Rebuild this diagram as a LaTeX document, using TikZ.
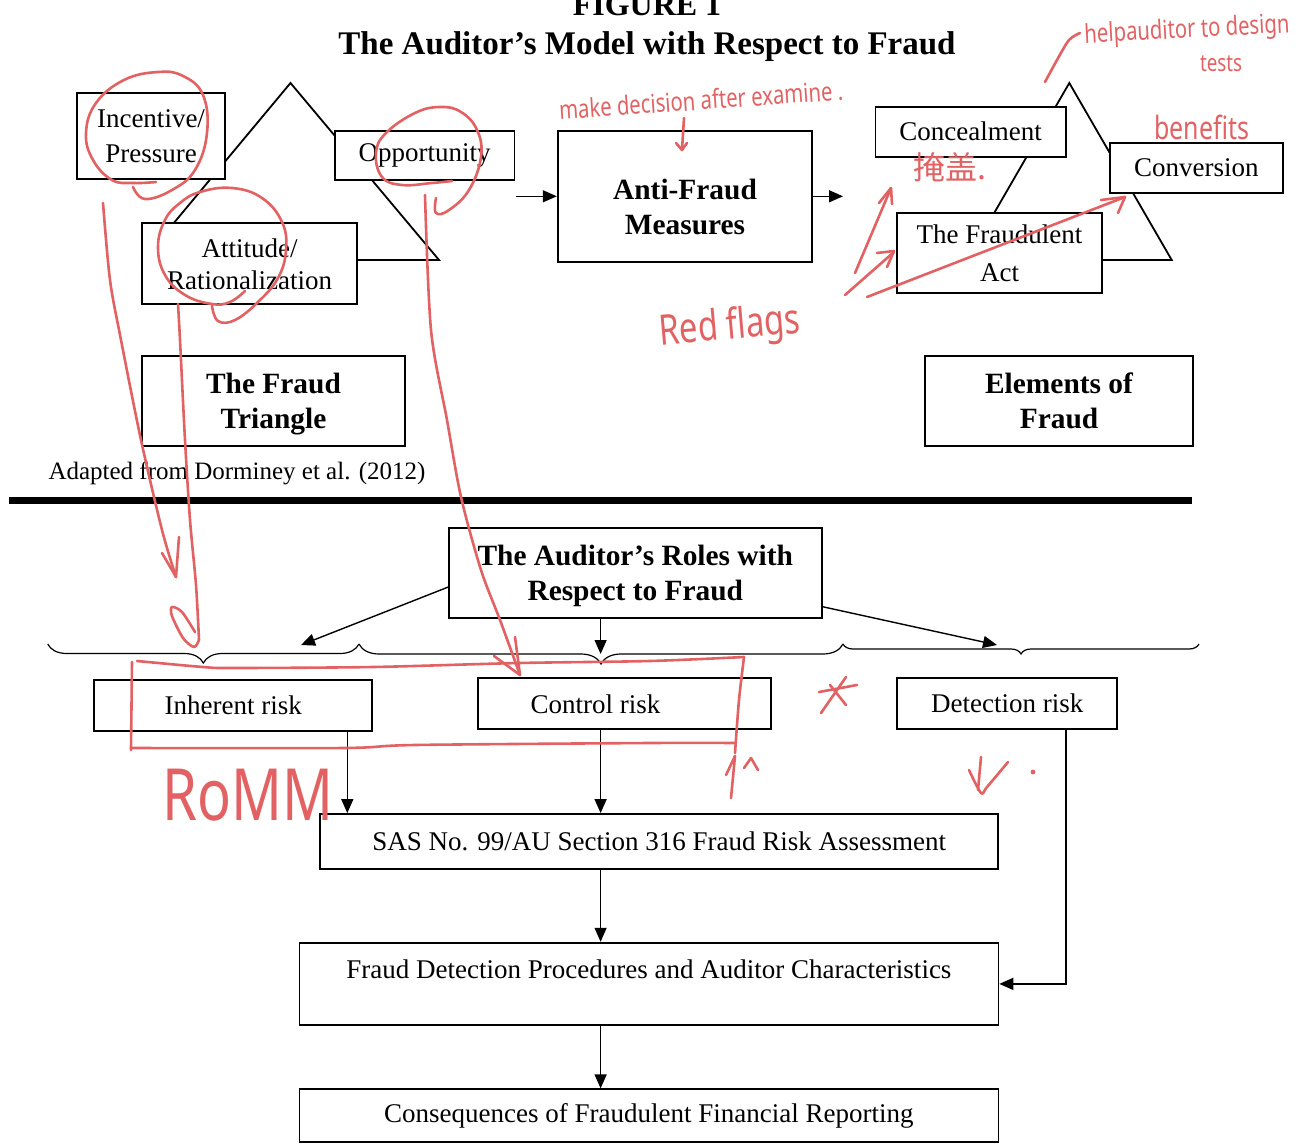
\documentclass[tikz,border=0pt]{standalone}
\usepackage{fontspec}
\setmainfont{Liberation Serif}
\newfontfamily\penfont{Noto Sans}[FakeStretch=0.78]
\newfontfamily\cjkfont{Noto Sans CJK SC}
\usetikzlibrary{arrows.meta,decorations.pathreplacing}
\definecolor{redpen}{RGB}{226,98,100}

\begin{document}
\begin{tikzpicture}[
  x=0.5pt,
  y=-0.5pt,
  box/.style={draw, line width=0.9pt, fill=white, inner sep=0pt, align=center, font=\fontsize{13.5}{17.5}\selectfont},
  head/.style={box, font=\bfseries\fontsize{14.7}{17.5}\selectfont},
  arr/.style={-{Triangle[length=7pt,width=6pt]}, line width=0.7pt},
  curly/.style={decorate, decoration={brace, mirror, amplitude=#1}, line width=0.6pt},
  pen/.style={draw=redpen, line width=1.3pt, line cap=round, line join=round},
  pentext/.style={text=redpen, inner sep=0pt}
]

\path[fill=white] (0,0) rectangle (1305,1144);
\useasboundingbox (0,0) rectangle (1305,1144);

\node[font=\bfseries\fontsize{16}{19}\selectfont, anchor=base] (figno) at (647,16) {FIGURE 1};
\node[font=\bfseries\fontsize{16.5}{19}\selectfont, anchor=base] (title) at (647,55) {The Auditor's Model with Respect to Fraud};

\draw[line width=0.9pt] (290.5,83) -- (143,260) -- (439,260) -- cycle;
\draw[line width=0.9pt] (1069.3,83) -- (967,260) -- (1171.7,260) -- cycle;

\node[box, minimum width=74.3pt, minimum height=43pt] (incentive) at (151,136) {Incentive/\\Pressure};
\node[box, minimum width=89.8pt, minimum height=24.8pt] (opportunity) at (424.7,155.5) {Opportunity};
\node[box, minimum width=107.3pt, minimum height=40.5pt] (attitude) at (249.5,263.8) {Attitude/\\[-1.5pt]Rationalization};
\node[head, minimum width=127.3pt, minimum height=65.4pt] (antifraud) at (685,196.3) {\rule{0pt}{21pt}Anti-Fraud\\Measures};
\node[box, minimum width=95.2pt, minimum height=25pt] (concealment) at (970.7,131.7) {Concealment};
\node[box, minimum width=86.6pt, minimum height=24.7pt] (conversion) at (1196.4,168) {Conversion};
\node[box, minimum width=102.5pt, minimum height=40.3pt] (fraudact) at (999.5,253) {The Fraudulent\\[1.5pt]Act};
\node[head, minimum width=131.2pt, minimum height=45pt] (fraudtriangle) at (273.5,401) {\rule{0pt}{13pt}The Fraud\\Triangle};
\node[head, minimum width=133.7pt, minimum height=44.9pt] (elements) at (1059,400.8) {Elements of\\Fraud};
\node[font=\fontsize{12.5}{15}\selectfont] (source) at (237,473) {Adapted from Dorminey et al. (2012)};

\coordinate (afin) at (516,196.3);
\coordinate (afout) at (843,196.3);
\draw[arr] (afin) -- (antifraud);
\draw[arr] (antifraud) -- (afout);

\draw[line width=3.5pt] (9,500.5) -- (1192,500.5);

\node[head, minimum width=186.3pt, minimum height=45pt] (roles) at (635.3,572.7) {\rule{0pt}{13pt}The Auditor's Roles with\\Respect to Fraud};

\draw[curly=9.5pt] (47.7,644) -- (359,644);
\draw[curly=10pt] (359,644) -- (843,644);
\draw[curly=5pt] (843,644) -- (1199,644);
\coordinate (b1) at (301,645);
\coordinate (b2) at (600.6,654);
\coordinate (b3) at (997,645);

\draw[arr] ([yshift=-7.2pt]roles.west) -- (b1);
\draw[arr] (roles.south -| b2) -- (b2);
\draw[arr] ([yshift=-17pt]roles.east) -- (b3);

\node[box, minimum width=139pt, minimum height=25.4pt] (inherent) at (233.2,705.4) {Inherent risk};
\node[box, minimum width=146.6pt, minimum height=25.5pt] (control) at (624.6,703.8) {Control risk\hspace*{29pt}\mbox{}};
\node[box, minimum width=109.9pt, minimum height=25.5pt] (detection) at (1007.2,703.2) {Detection risk};
\node[box, minimum width=339pt, minimum height=27.5pt] (sas) at (659.3,841.5) {SAS No. 99/AU Section 316 Fraud Risk Assessment};
\node[box, minimum width=349.5pt, minimum height=41.2pt] (procedures) at (648.9,983.9) {Fraud Detection Procedures and Auditor Characteristics\\[-8pt]\strut};
\node[box, minimum width=349.5pt, minimum height=26.2pt] (consequences) at (648.9,1115.5) {Consequences of Fraudulent Financial Reporting};

\draw[arr] ([xshift=-12.9pt]inherent.south east) -- ([xshift=-12.9pt]inherent.south east |- sas.north);
\draw[arr] (control.south -| b2) -- (sas.north -| b2);
\draw[arr] (sas.south -| b2) -- (procedures.north -| b2);
\draw[arr] (procedures.south -| b2) -- (consequences.north -| b2);
\draw[arr] ([xshift=29.4pt]detection.south) |- (procedures.east);

\draw[pen] plot[smooth, tension=0.7] coordinates {(133,187) (145,199) (172,190) (195,170) (207,133) (203,95) (183,76) (158,72) (124,80) (96,103) (86,133) (93,160) (112,180) (133,183) (156,182)};
\draw[pen] plot[smooth, tension=0.7] coordinates {(436,198) (436,213) (449,210) (469,190) (481,157) (477,130) (461,112) (440,107) (415,113) (386,133) (376,153) (382,177) (402,185) (432,183) (452,181)};
\draw[pen] plot[smooth, tension=0.7] coordinates {(245,291) (230,302) (212,304) (185,295) (165,275) (158,247) (165,220) (180,203) (200,192) (232,188) (262,198) (282,222) (286,250) (278,278) (258,302) (235,320) (218,321) (212,306)};

\draw[pen] plot[smooth] coordinates {(103,203) (110,280) (121,340) (141,440) (162,530) (176,577)};
\draw[pen] (162,553) -- (176,577) -- (179,537);
\draw[pen] plot[smooth] coordinates {(178,304) (180,340) (185,440) (190,520) (196,585) (199,640)};
\draw[pen] plot[smooth] coordinates {(199,640) (194,647) (183,638) (172,616) (172,607) (182,612) (195,632)};
\draw[pen] plot[smooth] coordinates {(425,195) (431,330) (447,420) (461,497) (481,570) (500,620) (520,675)};
\draw[pen] (494,656) -- (520,675) -- (515,637);

\draw[pen] plot[smooth] coordinates {(137,661) (203,667) (232,668) (373,667) (519,663) (650,661) (744,657)};
\draw[pen] plot[smooth] coordinates {(744,657) (739,700) (735,753)};
\draw[pen] plot[smooth] coordinates {(735,743) (650,743) (415,745) (344,748) (131,748)};
\draw[pen] (132,662) -- (131,750);

\draw[pen] (731,798) -- (735,756);
\draw[pen] (726,775) -- (735,756);
\draw[pen] (744,768) -- (751,758) -- (758,770);
\draw[pen] (821,713) -- (846,677);
\draw[pen] (819,692) -- (857,685);
\draw[pen] (830,685) -- (846,705);
\draw[pen] plot[smooth] coordinates {(969,770) (981,793) (987,787) (1008,762)};
\draw[pen] (981,757) -- (978,790);
\fill[redpen] (1033,772) circle (1.2pt);

\draw[pen] (684,118) -- (682,150);
\draw[pen] (676,143) -- (682,150) -- (687,143);
\draw[pen] plot[smooth] coordinates {(1045,82) (1057,60) (1069,40) (1080,33)};

\draw[pen] (855,273) -- (891,188);
\draw[pen] (879,203) -- (891,188) -- (892,204);
\draw[pen] (845,295) -- (894,252);
\draw[pen] (877,253) -- (894,251) -- (887,267);
\draw[pen] (867,297) -- (1125,197);
\draw[pen] (1101,200) -- (1125,197) -- (1118,213);

\node[pentext, font=\penfont\fontsize{13}{15}\selectfont, rotate=4] (makedecision) at (701,100) {make decision after examine .};
\node[pentext, font=\penfont\fontsize{13}{15}\selectfont, rotate=3] (helpnote) at (1187,31) {helpauditor to design};
\node[pentext, font=\penfont\fontsize{12}{14}\selectfont] (testsnote) at (1221,64) {tests};
\node[pentext, font=\penfont\fontsize{16}{18}\selectfont] (benefitsnote) at (1202,127) {benefits};
\node[pentext, font=\cjkfont\fontsize{16}{18}\selectfont] (yangai) at (950,167) {掩盖.};
\node[pentext, font=\penfont\fontsize{21}{23}\selectfont, rotate=5] (redflags) at (730,328) {Red flags};
\node[pentext, font=\penfont\fontsize{36}{38}\selectfont] (romm) at (248,795) {RoMM};

\end{tikzpicture}
\end{document}
